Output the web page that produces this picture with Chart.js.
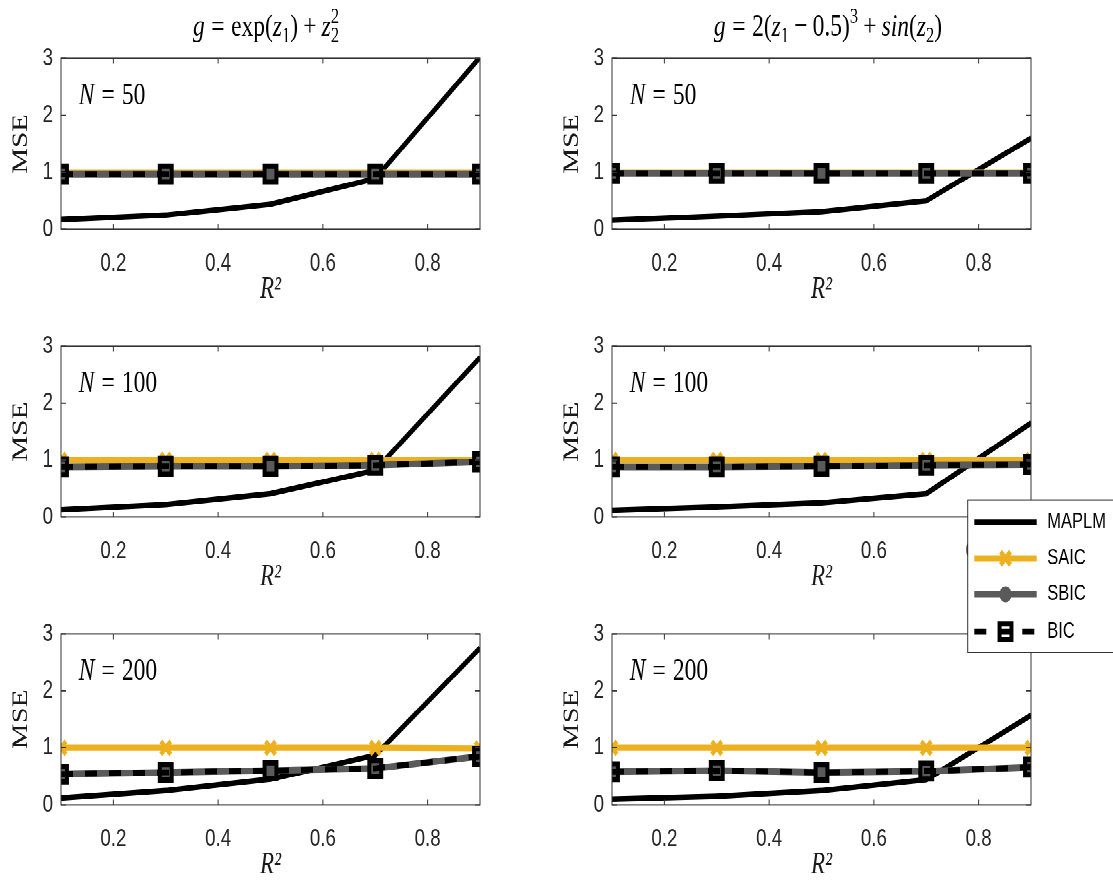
<!DOCTYPE html>
<html>
<head>
<meta charset="utf-8">
<script src="https://cdn.jsdelivr.net/npm/chart.js"></script>
<style>
  html { overflow: hidden; }
  html, body { margin: 0; padding: 0; background: #fff; }
  body { height: 886px; }
  /* the original figure is stretched vertically, so draw at 1/1.32 height and stretch */
  #fig { position: relative; width: 1113px; height: 671px; transform: scaleY(1.32); transform-origin: 0 0; }
  #fig canvas { position: absolute; }
</style>
</head>
<body>
<div id="fig"></div>
<script>
// ---- data ----
const r2 = [0.1, 0.3, 0.5, 0.7, 0.9];
const r2Ticks = [0.2, 0.4, 0.6, 0.8];
const mseTicks = [0, 1, 2, 3];
const sampleSizes = [50, 100, 200];
const methods = ['MAPLM', 'SAIC', 'SBIC', 'BIC'];

// g = exp(z1) + z2^2 ; one row per N = 50, 100, 200
const maplmExp = [[0.17, 0.25, 0.44, 0.89, 3.02], [0.13, 0.22, 0.41, 0.82, 2.80], [0.12, 0.25, 0.45, 0.87, 2.75]];
const saicExp  = [[1.00, 1.00, 1.00, 1.00, 1.00], [1.00, 1.00, 1.00, 1.00, 1.00], [1.00, 1.00, 1.00, 1.00, 0.99]];
const sbicExp  = [[0.97, 0.97, 0.97, 0.97, 0.97], [0.88, 0.89, 0.89, 0.91, 0.97], [0.54, 0.57, 0.60, 0.64, 0.85]];
const bicExp   = [[0.97, 0.97, 0.97, 0.97, 0.97], [0.88, 0.89, 0.89, 0.91, 0.97], [0.54, 0.57, 0.60, 0.64, 0.85]];

// g = 2(z1 - 0.5)^3 + sin(z2)
const maplmSin = [[0.16, 0.23, 0.31, 0.50, 1.60], [0.12, 0.18, 0.25, 0.41, 1.65], [0.10, 0.15, 0.25, 0.44, 1.57]];
const saicSin  = [[1.00, 1.00, 1.00, 1.00, 1.00], [1.00, 1.00, 1.00, 1.00, 1.00], [1.00, 1.00, 1.00, 1.00, 1.00]];
const sbicSin  = [[0.98, 0.98, 0.98, 0.98, 0.98], [0.88, 0.88, 0.89, 0.91, 0.92], [0.58, 0.60, 0.57, 0.59, 0.66]];
const bicSin   = [[0.98, 0.98, 0.98, 0.98, 0.98], [0.88, 0.88, 0.89, 0.91, 0.92], [0.58, 0.60, 0.57, 0.59, 0.66]];

// column titles as runs: [text, flags]  i = italic, b = subscript, s = no advance, p = superscript; numbers = space in em
const titleExp = [['g', 'i'], 0.28, ['='], 0.28, ['exp'], ['('], ['z', 'i'], ['1', 'b'], [')'], 0.22, ['+'], 0.22,
  ['z', 'i'], ['2', 'bs'], ['2', 'p']];
const titleSin = [['g', 'i'], 0.28, ['='], 0.28, ['2('], ['z', 'i'], ['1', 'b'], 0.22, ['\u2212'], 0.22, ['0.5)'], ['3', 'p'],
  0.22, ['+'], 0.22, ['sin', 'i'], ['('], ['z', 'i'], ['2', 'b'], [')']];

const ORANGE = '#EDB120';
const GRAY = '#5a5a5a';
const AXIS = '#333333';

// ---- helpers ----
function drawRuns(ctx, runs, x, y, size, align) {
  const items = [];
  let w = 0;
  for (const r of runs) {
    if (typeof r === 'number') { items.push({ gap: r * size }); w += r * size; continue; }
    const f = r[1] || '';
    const small = f.includes('b') || f.includes('p');
    const sz = small ? size * 0.7 : size;
    const font = `${f.includes('i') ? 'italic ' : ''}${sz}px "Liberation Serif"`;
    ctx.font = font;
    const tw = ctx.measureText(r[0]).width;
    const adv = f.includes('s') ? 0 : tw;
    const dy = f.includes('b') ? size * 0.22 : (f.includes('p') ? -size * 0.4 : 0);
    items.push({ t: r[0], font, adv, dy });
    w += adv;
  }
  let cx = align === 'center' ? x - w / 2 : x;
  ctx.textAlign = 'left';
  for (const it of items) {
    if (it.gap !== undefined) { cx += it.gap; continue; }
    ctx.font = it.font;
    ctx.fillText(it.t, cx, y + it.dy);
    cx += it.adv;
  }
}

function drawMarker(ctx, style, x, y, r, lw, stroke, fill) {
  ctx.save();
  ctx.lineWidth = lw;
  ctx.strokeStyle = stroke;
  ctx.fillStyle = fill;
  ctx.setLineDash([]);
  ctx.beginPath();
  if (style === 'circle') {
    ctx.arc(x, y, r, 0, Math.PI * 2);
    ctx.fill();
  } else if (style === 'rect') {
    const h = r * Math.SQRT1_2;
    ctx.rect(x - h, y - h, 2 * h, 2 * h);
    ctx.fill();
  } else if (style === 'crossRot') {
    const h = r * Math.SQRT1_2;
    ctx.moveTo(x - h, y - h); ctx.lineTo(x + h, y + h);
    ctx.moveTo(x - h, y + h); ctx.lineTo(x + h, y - h);
  }
  ctx.stroke();
  ctx.restore();
}

// MATLAB-like legend, drawn on the middle-right panel and overlapping the one below
function drawLegend(chart) {
  const { ctx } = chart;
  const bx = 427.7, by = 160.8, bw = 160, bh = 115.7;
  ctx.save();
  ctx.fillStyle = '#fff';
  ctx.fillRect(bx, by, bw, bh);
  ctx.strokeStyle = AXIS;
  ctx.lineWidth = 1;
  ctx.strokeRect(bx, by, bw, bh);
  const rowY = [177.7, 205, 232.2, 260.6];
  chart.data.datasets.forEach((ds, i) => {
    const yy = rowY[i];
    ctx.save();
    ctx.strokeStyle = ds.borderColor;
    ctx.lineWidth = ds.borderWidth;
    ctx.setLineDash(ds.borderDash || []);
    ctx.beginPath();
    ctx.moveTo(434.3, yy);
    ctx.lineTo(496.7, yy);
    ctx.stroke();
    ctx.restore();
    if (ds.pointRadius) {
      drawMarker(ctx, ds.pointStyle, 465.5, yy, ds.pointRadius, ds.pointBorderWidth, ds.pointBorderColor, ds.pointBackgroundColor);
    }
    ctx.fillStyle = '#000';
    ctx.font = '16.5px "Liberation Sans"';
    ctx.textAlign = 'left';
    ctx.textBaseline = 'middle';
    ctx.fillText(ds.label, 507.3, yy);
  });
  ctx.restore();
}

// axes box, inward ticks, N label, column title, legend
const panelDecor = {
  id: 'panelDecor',
  afterDraw(chart, args, opts) {
    const { ctx, chartArea: a, scales: { x, y } } = chart;
    ctx.save();
    ctx.strokeStyle = AXIS;
    ctx.lineWidth = 1;
    ctx.strokeRect(a.left, a.top, a.right - a.left, a.bottom - a.top);
    ctx.beginPath();
    for (const t of x.ticks) {
      const px = x.getPixelForValue(t.value);
      ctx.moveTo(px, a.bottom); ctx.lineTo(px, a.bottom - 4);
      ctx.moveTo(px, a.top); ctx.lineTo(px, a.top + 4);
    }
    for (const t of y.ticks) {
      const py = y.getPixelForValue(t.value);
      ctx.moveTo(a.left, py); ctx.lineTo(a.left + 5, py);
      ctx.moveTo(a.right, py); ctx.lineTo(a.right - 5, py);
    }
    ctx.stroke();

    ctx.fillStyle = '#000';
    ctx.textBaseline = 'middle';
    drawRuns(ctx, [['N', 'i'], 0.3, ['='], 0.3, [String(opts.n)]],
      x.getPixelForValue(0.134), y.getPixelForValue(2.34), 23.5, 'left');

    if (opts.title) {
      ctx.textBaseline = 'alphabetic';
      drawRuns(ctx, opts.title, opts.titleX, 27, 23.5, 'center');
    }
    if (opts.legend) drawLegend(chart);
    ctx.restore();
  },
};

function makeDatasets(m, sa, sb, bi) {
  const pts = (vals) => r2.map((v, i) => ({ x: v, y: vals[i] }));
  return [
    { label: methods[0], data: pts(m), borderColor: '#000', borderWidth: 4.2,
      pointRadius: 0, pointHoverRadius: 0, order: 4 },
    { label: methods[1], data: pts(sa), borderColor: ORANGE, borderWidth: 4.6,
      pointStyle: 'crossRot', pointRadius: 7, pointBorderWidth: 4,
      pointBorderColor: ORANGE, pointBackgroundColor: ORANGE, pointHoverRadius: 7, order: 3 },
    { label: methods[2], data: pts(sb), borderColor: GRAY, borderWidth: 5,
      pointStyle: 'circle', pointRadius: 5.5, pointBorderWidth: 1,
      pointBorderColor: GRAY, pointBackgroundColor: GRAY, pointHoverRadius: 5.5, order: 2 },
    { label: methods[3], data: pts(bi), borderColor: '#000', borderWidth: 4.4, borderDash: [12, 12],
      pointStyle: 'rect', pointRadius: 8.4, pointBorderWidth: 4,
      pointBorderColor: '#000', pointBackgroundColor: 'rgba(0,0,0,0)', pointHoverRadius: 8.4, order: 1 },
  ];
}

// ---- layout of the 3 x 2 grid (in unstretched pixels) ----
const rowTop = [0, 218, 436];
const colLeft = [0, 540];
const colWidth = [540, 573];
const PLOT_BOTTOM = 173.7;
const X_AXIS_H = 60;

const fig = document.getElementById('fig');

sampleSizes.forEach((n, row) => {
  [0, 1].forEach((col) => {
    const hasLegend = row === 1 && col === 1;
    const h = hasLegend ? 290 : 235;
    const canvas = document.createElement('canvas');
    canvas.width = colWidth[col];
    canvas.height = h;
    canvas.style.left = colLeft[col] + 'px';
    canvas.style.top = rowTop[row] + 'px';
    canvas.style.zIndex = hasLegend ? 5 : 1;
    fig.appendChild(canvas);

    const sets = col === 0
      ? makeDatasets(maplmExp[row], saicExp[row], sbicExp[row], bicExp[row])
      : makeDatasets(maplmSin[row], saicSin[row], sbicSin[row], bicSin[row]);

    new Chart(canvas, {
      type: 'line',
      data: { datasets: sets },
      plugins: [panelDecor],
      options: {
        responsive: false,
        devicePixelRatio: 2,
        animation: false,
        events: [],
        layout: {
          padding: {
            left: col ? 11 : 0,
            right: col ? 82 : 60,
            top: 44.2,
            bottom: h - PLOT_BOTTOM - X_AXIS_H,
          },
        },
        elements: { line: { tension: 0 } },
        scales: {
          x: {
            type: 'linear',
            min: 0.1,
            max: 0.9,
            afterBuildTicks: (s) => { s.ticks = r2Ticks.map((v) => ({ value: v })); },
            afterFit: (s) => { s.height = X_AXIS_H; },
            grid: { display: false, drawTicks: false },
            border: { display: false },
            ticks: {
              padding: 15,
              maxRotation: 0,
              color: '#262626',
              font: { family: 'Liberation Sans', size: 18.7 },
            },
            title: {
              display: true,
              text: 'R\u00b2',
              color: '#1a1a1a',
              padding: { top: 0, bottom: 0.4 },
              font: { family: 'Liberation Serif', style: 'italic', size: 23 },
            },
          },
          y: {
            min: 0,
            max: 3,
            afterBuildTicks: (s) => { s.ticks = mseTicks.map((v) => ({ value: v })); },
            afterFit: (s) => { s.width = 61; },
            grid: { display: false, drawTicks: false },
            border: { display: false },
            ticks: {
              padding: 8,
              color: '#262626',
              font: { family: 'Liberation Sans', size: 18.7 },
            },
            title: {
              display: true,
              text: 'MSE',
              color: '#1a1a1a',
              padding: { top: 7.8, bottom: 0 },
              font: { family: 'Liberation Serif', size: 22 },
            },
          },
        },
        plugins: {
          legend: { display: false },
          tooltip: { enabled: false },
          panelDecor: {
            n,
            title: row === 0 ? (col === 0 ? titleExp : titleSin) : null,
            titleX: col === 0 ? 266 : 288,
            legend: hasLegend,
          },
        },
      },
    });
  });
});
</script>
</body>
</html>
